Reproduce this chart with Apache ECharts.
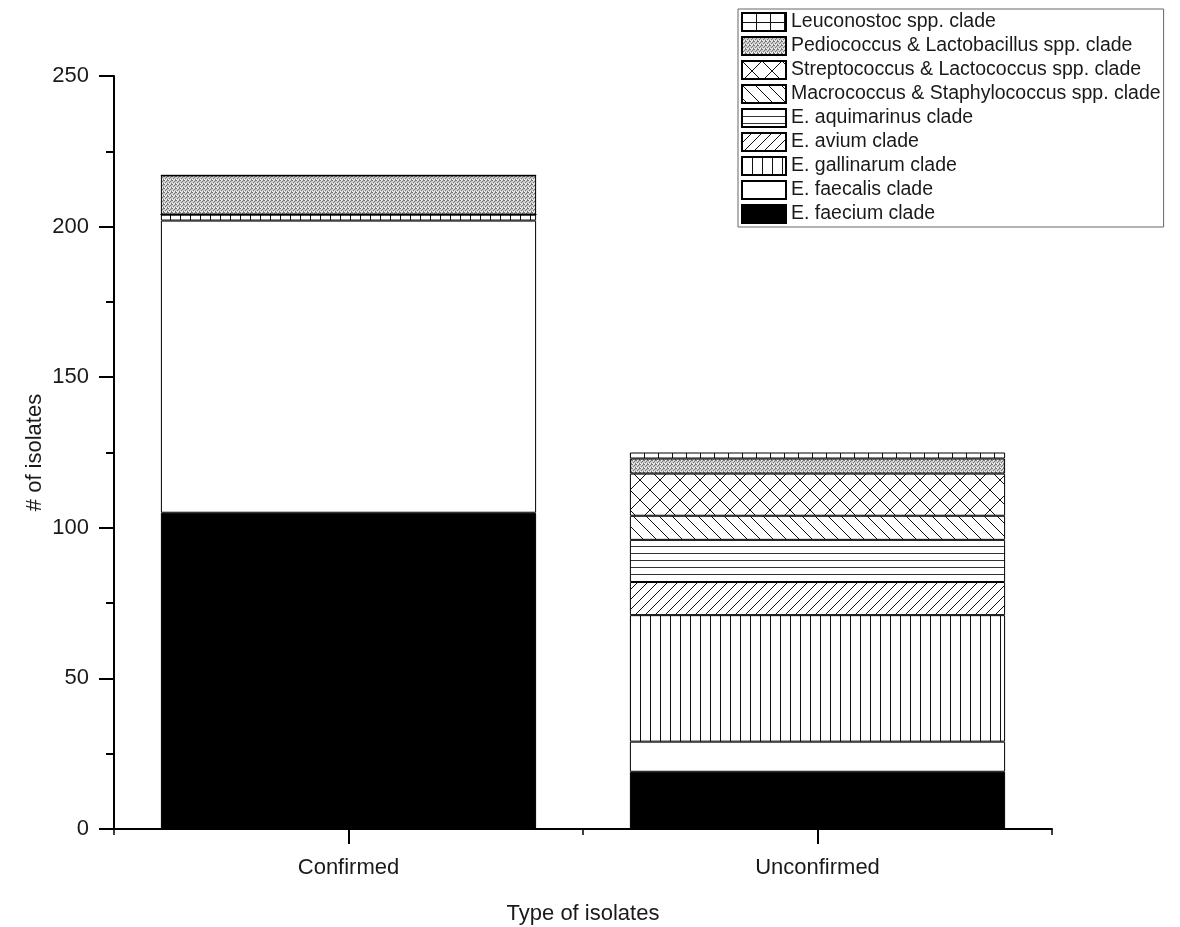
<!DOCTYPE html>
<html>
<head>
<meta charset="utf-8">
<script src="https://cdn.jsdelivr.net/npm/echarts@6/dist/echarts.min.js"></script>
<style>html,body{margin:0;padding:0;background:#fff}#c{width:1180px;height:927px}</style>
</head>
<body>
<div id="c"></div>
<script>
const categories = ['Confirmed', 'Unconfirmed'];
const faecium = [105, 19];
const faecalis = [97, 10];
const gallinarum = [2, 42];
const avium = [0, 11];
const aquimarinus = [0, 14];
const macrococcus = [0, 8];
const streptococcus = [0, 14];
const pediococcus = [13, 5];
const leuconostoc = [0, 2];
const yTicks = [0, 50, 100, 150, 200, 250];

function pat(w, h, draw) {
  const c = document.createElement('canvas');
  c.width = w; c.height = h;
  const g = c.getContext('2d');
  g.fillStyle = '#fff'; g.fillRect(0, 0, w, h);
  g.strokeStyle = '#111'; g.lineWidth = 1;
  draw(g, w, h);
  return { image: c, repeat: 'repeat' };
}
function line(g, x1, y1, x2, y2) { g.beginPath(); g.moveTo(x1, y1); g.lineTo(x2, y2); g.stroke(); }

const P = {
  leuconostoc: pat(14, 9, (g, w, h) => { line(g, 0.5, 0, 0.5, h); line(g, 0, 0.5, w, 0.5); }),
  pediococcus: pat(4, 4, (g, w, h) => {
    g.fillStyle = '#cccccc'; g.fillRect(0, 0, w, h);
    g.fillStyle = '#777777';
    [[0,0],[2,1],[1,2],[3,3],[3,0]].forEach(p => g.fillRect(p[0], p[1], 1, 1));
    g.fillStyle = '#f2f2f2';
    [[1,0],[0,3],[2,3]].forEach(p => g.fillRect(p[0], p[1], 1, 1));
  }),
  streptococcus: pat(20, 20, (g, w, h) => { line(g, -1, -1, w + 1, h + 1); line(g, w + 1, -1, -1, h + 1); }),
  macrococcus: pat(13, 13, (g, w, h) => { line(g, -1, -1, w + 1, h + 1); line(g, -w - 1, -1, 1, h + 1); line(g, w - 1, -1, 2 * w + 1, h + 1); }),
  aquimarinus: pat(4, 7, (g, w, h) => { g.strokeStyle = '#333'; line(g, 0, 0.5, w, 0.5); }),
  avium: pat(10, 10, (g, w, h) => { line(g, -1, h + 1, w + 1, -1); line(g, -w - 1, h + 1, 1, -1); line(g, w - 1, h + 1, 2 * w + 1, -1); }),
  gallinarum: pat(10, 4, (g, w, h) => { line(g, 0.5, 0, 0.5, h); }),
  faecalis: '#ffffff',
  faecium: '#000000'
};

const seriesDefs = [
  ['E. faecium clade', faecium, P.faecium],
  ['E. faecalis clade', faecalis, P.faecalis],
  ['E. gallinarum clade', gallinarum, P.gallinarum],
  ['E. avium clade', avium, P.avium],
  ['E. aquimarinus clade', aquimarinus, P.aquimarinus],
  ['Macrococcus & Staphylococcus spp. clade', macrococcus, P.macrococcus],
  ['Streptococcus & Lactococcus spp. clade', streptococcus, P.streptococcus],
  ['Pediococcus & Lactobacillus spp. clade', pediococcus, P.pediococcus],
  ['Leuconostoc spp. clade', leuconostoc, P.leuconostoc]
];

const font = '"Liberation Sans", Arial, Helvetica, sans-serif';
const chart = echarts.init(document.getElementById('c'), null, { renderer: 'canvas' });
chart.setOption({
  animation: false,
  backgroundColor: '#fff',
  textStyle: { fontFamily: font, color: '#1a1a1a' },
  grid: { left: 114, right: 128, top: 76, bottom: 98, containLabel: false, outerBoundsMode: 'none' },
  legend: {
    orient: 'vertical',
    left: 738, top: 9,
    padding: [3, 3, 3, 3],
    itemGap: 4,
    itemWidth: 44, itemHeight: 18,
    icon: 'rect',
    borderColor: '#666', borderWidth: 1,
    textStyle: { fontFamily: font, fontSize: 19.5, color: '#1a1a1a' },
    data: seriesDefs.map(d => d[0]).reverse()
  },
  xAxis: [{
    type: 'category', data: categories,
    name: 'Type of isolates', nameLocation: 'middle', nameGap: 74, nameMoveOverlap: false,
    nameTextStyle: { fontSize: 22, fontFamily: font, color: '#1a1a1a' },
    axisLine: { lineStyle: { color: '#000', width: 2 } },
    axisTick: { show: true, interval: 0, alignWithLabel: true, length: 15, lineStyle: { color: '#000', width: 2 } },
    axisLabel: { fontSize: 22, margin: 28, color: '#1a1a1a', fontFamily: font },
    splitLine: { show: false }
  }, {
    type: 'value', min: 0, max: 2, interval: 1, position: 'bottom',
    axisLine: { show: false },
    axisTick: { show: true, length: 6, lineStyle: { color: '#000', width: 1.5 } },
    axisLabel: { show: false }, splitLine: { show: false }
  }],
  yAxis: {
    type: 'value', min: 0, max: 250, interval: 50,
    name: '# of isolates', nameLocation: 'middle', nameGap: 68, nameRotate: 90, nameMoveOverlap: false,
    nameTextStyle: { fontSize: 22, fontFamily: font, color: '#1a1a1a' },
    axisLine: { show: true, lineStyle: { color: '#000', width: 2 } },
    axisTick: { show: true, length: 15, lineStyle: { color: '#000', width: 2 } },
    minorTick: { show: true, splitNumber: 2, length: 8, lineStyle: { color: '#000', width: 2 } },
    axisLabel: { fontSize: 22, margin: 25, color: '#1a1a1a', fontFamily: font,
      formatter: v => yTicks.includes(v) ? String(v) : '' },
    splitLine: { show: false }
  },
  series: seriesDefs.map(d => ({
    name: d[0], type: 'bar', stack: 'total', barWidth: '80%', xAxisIndex: 0,
    data: d[1],
    itemStyle: { color: d[2], borderColor: '#000', borderWidth: 1 },
    emphasis: { disabled: true }
  }))
});
</script>
</body>
</html>
